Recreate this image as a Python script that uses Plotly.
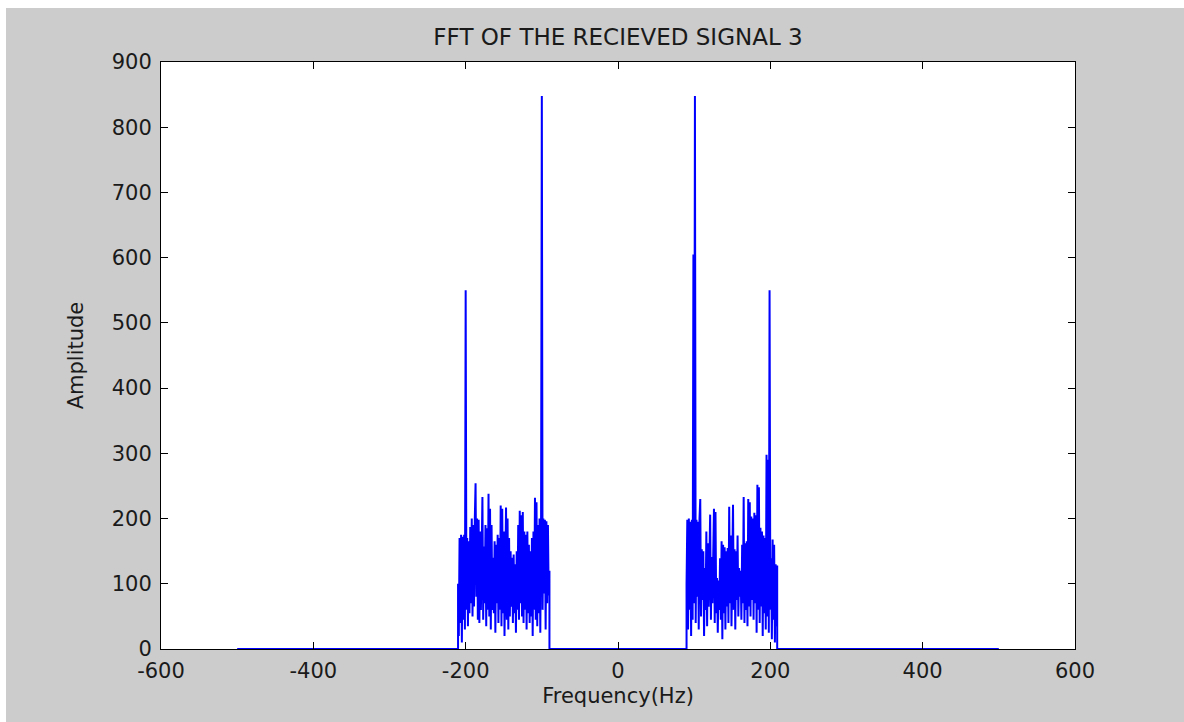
import plotly.graph_objects as go

# ---- data ----
title_text = "FFT OF THE RECIEVED SIGNAL 3"
x_label = "Frequency(Hz)"
y_label = "Amplitude"

span_freqs = [-500, 500]          # extent of the zero floor of the spectrum
neg_band_start = -210             # first frequency of negative band (1 Hz steps)
neg_band_amps = [
    100, 20, 170, 40, 175, 10, 172, 45, 175, 30,
    550, 60, 170, 35, 165, 55, 187, 70, 200, 50,
    190, 65, 200, 254, 80, 200, 45, 198, 40, 180,
    60, 200, 233, 45, 157, 70, 190, 35, 185, 60,
    238, 50, 215, 30, 190, 60, 140, 55, 165, 25,
    160, 70, 175, 40, 170, 60, 220, 35, 215, 55,
    180, 20, 200, 217, 45, 200, 30, 170, 50, 150,
    65, 140, 40, 145, 55, 130, 25, 150, 60, 190,
    45, 212, 70, 205, 50, 210, 40, 180, 60, 175,
    30, 180, 55, 160, 40, 150, 50, 170, 20, 180,
    60, 232, 45, 225, 35, 190, 55, 200, 25, 195,
    848, 60, 200, 85, 198, 30, 196, 70, 190, 82,
    120,
]
pos_band_start = 90               # first frequency of positive band (1 Hz steps)
pos_band_amps = [
    100, 198, 30, 200, 60, 195, 20, 198, 45, 605,
    70, 848, 40, 198, 80, 195, 30, 200, 230, 50,
    153, 75, 150, 20, 124, 60, 180, 35, 162, 65,
    160, 206, 45, 141, 70, 140, 215, 40, 210, 55,
    109, 25, 105, 60, 139, 45, 165, 15, 160, 55,
    156, 30, 150, 65, 155, 40, 218, 70, 174, 35,
    170, 221, 60, 153, 30, 150, 75, 174, 50, 124,
    80, 120, 45, 160, 70, 233, 40, 162, 60, 165,
    35, 230, 65, 225, 50, 203, 75, 200, 45, 209,
    70, 205, 25, 252, 60, 248, 40, 186, 65, 180,
    20, 174, 55, 170, 30, 298, 50, 290, 25, 550,
    60, 139, 15, 168, 45, 160, 10, 130, 35, 128,
]
x_ticks = [-600, -400, -200, 0, 200, 400, 600]
y_ticks = [0, 100, 200, 300, 400, 500, 600, 700, 800, 900]

# ---- build the single spectrum line ----
neg_freqs = [neg_band_start + i for i in range(len(neg_band_amps))]
pos_freqs = [pos_band_start + i for i in range(len(pos_band_amps))]

xs = [span_freqs[0], neg_freqs[0]] + neg_freqs + [neg_freqs[-1], pos_freqs[0]] \
     + pos_freqs + [pos_freqs[-1], span_freqs[1]]
ys = [0, 0] + neg_band_amps + [0, 0] + pos_band_amps + [0, 0]

FONT = "DejaVu Sans"
TXT = "#1a1a1a"
W, H = 1184, 722
L, R, T, B = 161, 109, 62, 73
pw, ph = W - L - R, H - T - B

fig = go.Figure()
fig.add_trace(go.Scatter(x=xs, y=ys, mode="lines",
                         line=dict(color="#0000ff", width=2),
                         hoverinfo="skip", showlegend=False))

# thin white strips at the top and left edge of the window (as in the reference)
fig.add_shape(type="rect", xref="paper", yref="paper",
              x0=-L / pw, x1=(W - L) / pw,
              y0=(T + ph - 8) / ph, y1=(T + ph) / ph,
              fillcolor="white", line=dict(width=0), layer="below")
fig.add_shape(type="rect", xref="paper", yref="paper",
              x0=-L / pw, x1=(6 - L) / pw,
              y0=-B / ph, y1=(T + ph) / ph,
              fillcolor="white", line=dict(width=0), layer="below")

axis_common = dict(showline=True, linecolor="black", linewidth=1, mirror="ticks",
                   ticks="inside", ticklen=7, tickcolor="black", showgrid=False,
                   zeroline=False, tickfont=dict(family=FONT, size=21, color=TXT))

fig.update_layout(
    width=W, height=H,
    margin=dict(l=L, r=R, t=T, b=B, pad=0),
    paper_bgcolor="#cccccc", plot_bgcolor="white",
    title=dict(text=title_text, x=(L + pw / 2) / W, xanchor="center",
               y=1 - 37 / H, yanchor="middle",
               font=dict(family=FONT, size=23, color=TXT)),
    xaxis=dict(range=[-600, 600], tickvals=x_ticks, ticktext=[str(v) for v in x_ticks],
               ticklabelstandoff=3,
               title=dict(text=x_label, standoff=6,
                          font=dict(family=FONT, size=21, color=TXT)),
               **axis_common),
    yaxis=dict(range=[0, 900], tickvals=y_ticks, ticktext=[str(v) for v in y_ticks],
               ticklabelstandoff=4,
               title=dict(text=y_label, standoff=22,
                          font=dict(family=FONT, size=21, color=TXT)),
               **axis_common),
)

fig.write_html("out.html")
